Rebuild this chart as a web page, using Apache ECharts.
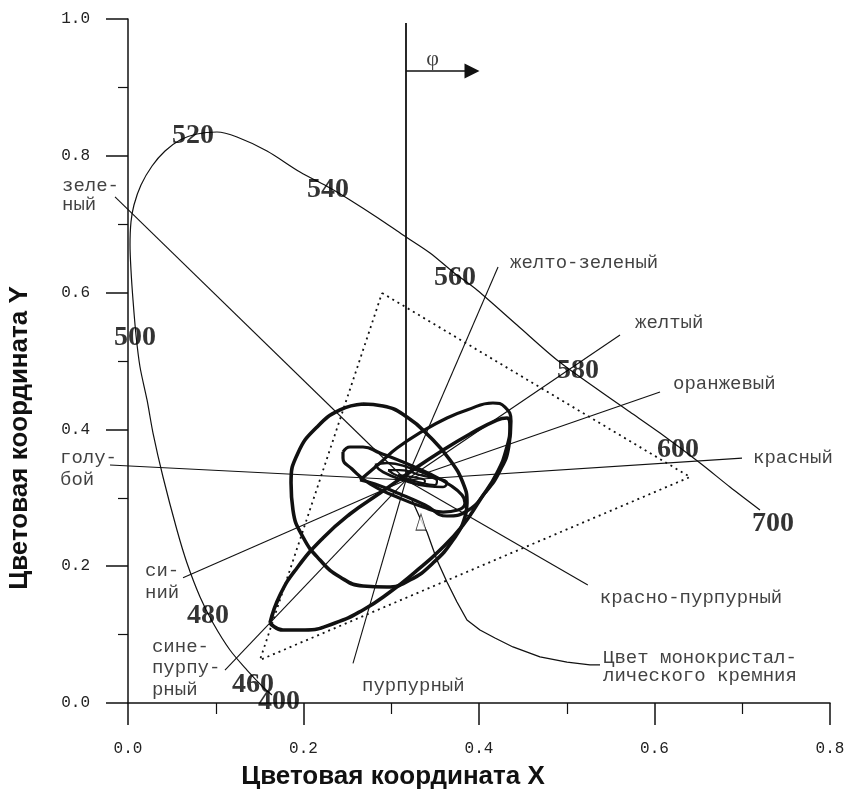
<!DOCTYPE html>
<html><head><meta charset="utf-8">
<script src="https://cdn.jsdelivr.net/npm/echarts@6/dist/echarts.min.js"></script>
<style>html,body{margin:0;padding:0;background:#fff}#chart{width:849px;height:796px}</style>
</head><body><div id="chart"></div>
<script>
// ---- axis ticks ----
const xTickLabels = ['0.0', '0.2', '0.4', '0.6', '0.8'];
const yTickLabels = ['0.0', '0.2', '0.4', '0.6', '0.8', '1.0'];
const xTitle = 'Цветовая координата X';
const yTitle = 'Цветовая координата Y';

// ---- spectral locus (x, y) ----
const locus = [
  [0.1641,0.0117],[0.1538,0.0234],[0.1356,0.0482],[0.1162,0.0775],[0.0969,0.1170],[0.0821,0.1550],
  [0.0672,0.2047],[0.0558,0.2529],[0.0399,0.3304],[0.0285,0.3947],[0.0217,0.4430],[0.0137,0.4912],
  [0.0091,0.5380],[0.0057,0.5892],[0.0034,0.6330],[0.0023,0.6696],[0.0034,0.7032],[0.0068,0.7281],
  [0.0148,0.7573],[0.0274,0.7851],[0.0422,0.8070],[0.0593,0.8231],[0.0786,0.8319],[0.1014,0.8348],
  [0.1242,0.8275],[0.1584,0.8070],[0.1960,0.7763],[0.2302,0.7529],[0.2530,0.7354],[0.2849,0.7091],
  [0.3134,0.6842],[0.3442,0.6579],[0.3704,0.6301],[0.3977,0.6038],[0.4433,0.5526],[0.4889,0.5015],
  [0.5345,0.4591],[0.5721,0.4254],[0.6063,0.3947],[0.6519,0.3509],[0.6860,0.3158],[0.7202,0.2822]
];

// ---- wavelength marks, nm ----
const wavelengths = ['400', '460', '480', '500', '520', '540', '560', '580', '600', '700'];
const wavelengthXY = [
  [0.172,0.002],[0.1425,0.026],[0.0912,0.127],[0.008,0.534],[0.0741,0.829],
  [0.2279,0.750],[0.3726,0.621],[0.5128,0.485],[0.6268,0.370],[0.735,0.262]
];

// ---- RGB gamut triangle ----
const gamut = [[0.2895,0.5994],[0.6405,0.3304],[0.1504,0.0629],[0.2895,0.5994]];

// ---- white point and hue directions ----
const whitePoint = [0.3168, 0.326];
const hueNames = ['зеле-\nный', 'голу-\nбой', 'си-\nний', 'сине-\nпурпу-\nрный', 'пурпурный',
  'красно-пурпурный', 'красный', 'оранжевый', 'желтый', 'желто-зеленый'];
const hueEnds = [
  [-0.0148,0.740],[-0.0205,0.348],[0.0627,0.183],[0.1105,0.048],[0.2564,0.058],
  [0.524,0.1725],[0.6997,0.358],[0.6063,0.4547],[0.5607,0.538],[0.4217,0.6374]
];

// ---- hue angle reference ----
const phiAxis = [[0.3168,0.994],[0.3168,0.326]];
const phiArrow = [[0.3168,0.924],[0.392,0.924]];
const phiLabelXY = [0.347, 0.9415];

// ---- colour scatter ellipses ----
const ellipseA = [
  [0.2678,0.4371],[0.2906,0.4342],[0.3179,0.4181],[0.3442,0.3889],[0.3669,0.3553],[0.3818,0.3216],
  [0.3863,0.2924],[0.3840,0.2719],[0.3704,0.2383],[0.3476,0.2047],[0.3214,0.1798],[0.2952,0.1696],
  [0.2678,0.1711],[0.2416,0.1842],[0.2188,0.2091],[0.1994,0.2427],[0.1880,0.2822],[0.1858,0.3216],
  [0.1937,0.3655],[0.2154,0.4035],[0.2416,0.4284],[0.2678,0.4371]
];
const ellipseB = [
  [0.1618,0.1170],[0.1732,0.1579],[0.1926,0.1974],[0.2222,0.2412],[0.2530,0.2763],[0.2872,0.3070],
  [0.3214,0.3377],[0.3556,0.3670],[0.3897,0.3933],[0.4205,0.4137],[0.4319,0.4167],[0.4353,0.4050],
  [0.4319,0.3743],[0.4205,0.3363],[0.4011,0.2968],[0.3818,0.2602],[0.3556,0.2237],[0.3271,0.1915],
  [0.2986,0.1623],[0.2678,0.1360],[0.2359,0.1170],[0.2017,0.1067],[0.1766,0.1067],[0.1618,0.1170]
];
const ellipseC = [
  [0.2644,0.3260],[0.2872,0.3509],[0.3066,0.3728],[0.3362,0.3977],[0.3635,0.4167],[0.3863,0.4284],
  [0.4159,0.4386],[0.4296,0.4327],[0.4365,0.4123],[0.4342,0.3757],[0.4239,0.3392],[0.4068,0.3070],
  [0.3863,0.2807],[0.3635,0.2734],[0.3385,0.2895],[0.3100,0.3055],[0.2815,0.3202],[0.2644,0.3260]
];
const ellipseD = [
  [0.2450,0.3670],[0.2530,0.3743],[0.2678,0.3743],[0.2872,0.3655],[0.3134,0.3523],[0.3442,0.3348],
  [0.3669,0.3187],[0.3806,0.3041],[0.3840,0.2924],[0.3761,0.2822],[0.3590,0.2792],[0.3362,0.2865],
  [0.3066,0.3012],[0.2758,0.3202],[0.2553,0.3421],[0.2450,0.3582],[0.2450,0.3670]
];
const ellipseE = [
  [0.2815,0.3480],[0.2952,0.3509],[0.3214,0.3436],[0.3476,0.3304],[0.3635,0.3216],[0.3590,0.3158],
  [0.3407,0.3173],[0.3134,0.3260],[0.2906,0.3377],[0.2815,0.3480]
];
const ellipseF = [
  [0.2963,0.3406],[0.3100,0.3406],[0.3328,0.3333],[0.3521,0.3246],[0.3499,0.3187],[0.3305,0.3231],
  [0.3077,0.3319],[0.2963,0.3406]
];
const ellipseG = [
  [0.3077,0.3333],[0.3236,0.3304],[0.3385,0.3246],[0.3350,0.3202],[0.3191,0.3246],[0.3077,0.3333]
];

// ---- colour of monocrystalline silicon ----
const siliconPath = [
  [0.3236,0.2968],[0.3328,0.2705],[0.3407,0.2500],[0.3521,0.2091],[0.3635,0.1769],[0.3749,0.1477],
  [0.3863,0.1213],[0.4011,0.1067],[0.4182,0.0950],[0.4387,0.0819],[0.4695,0.0673],[0.5003,0.0599],
  [0.5265,0.0556],[0.5379,0.0556]
];
const siliconMark = [0.3339, 0.2646];
const siliconName = 'Цвет монокристал-\nлического кремния';

// ---- text styling ----
const INK = '#111';
const MONO = '"Liberation Mono", "DejaVu Sans Mono", monospace';
const SERIF = '"Liberation Serif", "DejaVu Serif", serif';
const SANS = '"Liberation Sans", Arial, sans-serif';

// label placement next to the end of each hue line: [dx, dy, verticalAlign, lineHeight]
const hueLabelLayout = [
  [-53, -20, 'top', 19], [-50, -18, 'top', 22], [-38, -18, 'top', 22], [-73, -34, 'top', 21.5],
  [9, 23, 'middle', 20], [12, 13, 'middle', 20], [11, 0, 'middle', 20], [13, -8, 'middle', 20],
  [15, -12, 'middle', 20], [12, -4, 'middle', 20]
];

function ellipseSeries(pts, width) {
  return {
    type: 'line', data: pts, smooth: 0.5, showSymbol: false, silent: true, clip: false,
    lineStyle: { color: INK, width: width }, z: 5
  };
}

const chart = echarts.init(document.getElementById('chart'), null, { renderer: 'canvas' });

const option = {
  backgroundColor: '#fff',
  animation: false,
  grid: { left: 128, right: 19, top: 19, bottom: 93, containLabel: false },
  graphic: [
    { type: 'text', x: 393, y: 777, silent: true,
      style: { text: xTitle, fill: INK, font: 'bold 26px "Liberation Sans", Arial, sans-serif',
        align: 'center', verticalAlign: 'middle' } },
    { type: 'text', x: 20, y: 438, rotation: Math.PI / 2, silent: true,
      style: { text: yTitle, fill: INK, font: 'bold 26px "Liberation Sans", Arial, sans-serif',
        align: 'center', verticalAlign: 'middle' } }
  ],
  xAxis: {
    type: 'value', min: 0, max: 0.8, interval: 0.2,
    axisLine: { show: true, lineStyle: { color: INK, width: 1.5 } },
    axisTick: { show: true, length: 22, lineStyle: { color: INK, width: 1.5 } },
    minorTick: { show: true, splitNumber: 2, length: 11, lineStyle: { color: INK, width: 1.2 } },
    splitLine: { show: false },
    axisLabel: {
      margin: 38, fontFamily: MONO, fontSize: 16, color: '#222',
      formatter: v => xTickLabels[Math.round(v / 0.2)]
    }
  },
  yAxis: {
    type: 'value', min: 0, max: 1.0, interval: 0.2,
    axisLine: { show: true, lineStyle: { color: INK, width: 1.5 } },
    axisTick: { show: true, length: 22, lineStyle: { color: INK, width: 1.5 } },
    minorTick: { show: true, splitNumber: 2, length: 10, lineStyle: { color: INK, width: 1.2 } },
    splitLine: { show: false },
    axisLabel: {
      margin: 38, fontFamily: MONO, fontSize: 16, color: '#222',
      formatter: v => yTickLabels[Math.round(v / 0.2)]
    }
  },
  series: [
    // spectral locus
    { type: 'line', data: locus, smooth: 0.3, showSymbol: false, silent: true,
      lineStyle: { color: INK, width: 1.2 }, z: 2 },
    // gamut triangle
    { type: 'line', data: gamut, showSymbol: false, silent: true,
      lineStyle: { color: INK, width: 1.8, type: [2, 4] }, z: 2 },
    // hue directions from the white point
    { type: 'lines', coordinateSystem: 'cartesian2d', silent: true, clip: false,
      data: hueEnds.map(e => ({ coords: [whitePoint, e] })),
      lineStyle: { color: INK, width: 1.1, opacity: 1 }, z: 3 },
    // hue angle reference: vertical line and arrow
    { type: 'lines', coordinateSystem: 'cartesian2d', silent: true,
      data: [{ coords: phiAxis }],
      lineStyle: { color: INK, width: 1.8, opacity: 1 }, z: 3 },
    { type: 'lines', coordinateSystem: 'cartesian2d', silent: true,
      symbol: ['none', 'triangle'], symbolSize: 15,
      data: [{ coords: phiArrow }],
      lineStyle: { color: INK, width: 1.6, opacity: 1 }, itemStyle: { color: INK }, z: 3 },
    // ellipses
    ellipseSeries(ellipseA, 3.6),
    ellipseSeries(ellipseB, 3.6),
    ellipseSeries(ellipseC, 3.2),
    ellipseSeries(ellipseD, 3.2),
    ellipseSeries(ellipseE, 2.6),
    ellipseSeries(ellipseF, 2.2),
    ellipseSeries(ellipseG, 2.0),
    // silicon colour path
    { type: 'line', data: siliconPath, smooth: false, showSymbol: false, silent: true,
      lineStyle: { color: INK, width: 1.3 }, z: 4 },
    { type: 'scatter', data: [siliconMark], symbol: 'triangle', symbolSize: [10, 16], silent: true,
      itemStyle: { color: '#fff', borderColor: INK, borderWidth: 1 }, z: 4 },
    // wavelength labels
    { type: 'scatter', symbolSize: 0, silent: true, z: 6,
      data: wavelengths.map((w, i) => ({ name: w, value: wavelengthXY[i] })),
      label: { show: true, position: 'inside', formatter: p => p.name,
        fontFamily: SERIF, fontWeight: 'bold', fontSize: 28, color: '#000' } },
    // hue names
    { type: 'scatter', symbolSize: 0, silent: true, clip: false, z: 6,
      data: hueNames.map((n, i) => ({
        name: n, value: hueEnds[i],
        label: {
          position: [hueLabelLayout[i][0], hueLabelLayout[i][1]],
          verticalAlign: hueLabelLayout[i][2], lineHeight: hueLabelLayout[i][3]
        }
      })),
      label: { show: true, formatter: p => p.name, align: 'left',
        fontFamily: MONO, fontSize: 19, color: INK } },
    // silicon label
    { type: 'scatter', symbolSize: 0, silent: true, z: 6,
      data: [{ name: siliconName, value: siliconPath[siliconPath.length - 1] }],
      label: { show: true, formatter: p => p.name, position: [3, -16], align: 'left',
        verticalAlign: 'top', lineHeight: 18, fontFamily: MONO, fontSize: 19, color: INK } },
    // φ label
    { type: 'scatter', symbolSize: 0, silent: true, z: 6,
      data: [{ name: 'φ', value: phiLabelXY }],
      label: { show: true, position: 'inside', formatter: p => p.name,
        fontFamily: SERIF, fontSize: 22, color: INK } }
  ]
};

chart.setOption(option);
</script>
</body></html>
